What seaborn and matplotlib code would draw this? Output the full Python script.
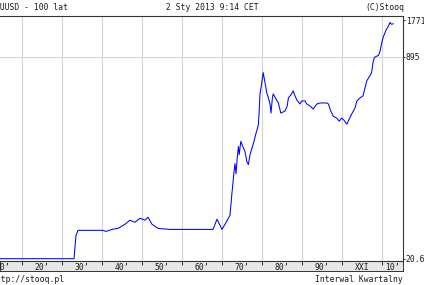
import matplotlib
matplotlib.use("Agg")
import matplotlib.pyplot as plt
import matplotlib.ticker as mticker
import seaborn as sns
import pandas as pd

# ---- data ----
years = [1914.5, 1933.0, 1933.5, 1934.0, 1940.25, 1941.0, 1942.5, 1944.0, 1945.75, 1947.0,
         1948.25, 1949.5, 1950.75, 1951.5, 1952.5, 1954.0, 1957.0, 1962.0, 1967.75, 1968.75,
         1970.0, 1970.75, 1972.0, 1972.4, 1973.0, 1973.25, 1973.5, 1973.8, 1974.1, 1974.3,
         1974.7, 1975.2, 1975.75, 1976.2, 1976.6, 1977.0, 1977.4, 1978.0, 1978.5, 1978.8,
         1979.1, 1979.3, 1979.5, 1979.75, 1980.0, 1980.3, 1980.75, 1981.2, 1981.6, 1982.0,
         1982.25, 1982.6, 1982.8, 1983.5, 1984.1, 1984.7, 1985.75, 1986.3, 1986.6, 1987.4,
         1987.8, 1988.25, 1988.7, 1989.5, 1989.9, 1990.75, 1991.2, 1992.0, 1992.8, 1993.7,
         1994.5, 1996.2, 1996.6, 1997.2, 1997.8, 1998.7, 1999.3, 1999.9, 2000.5, 2001.2,
         2001.8, 2002.4, 2003.25, 2003.7, 2004.5, 2005.25, 2005.75, 2006.2, 2007.0, 2007.4,
         2007.75, 2008.1, 2008.5, 2009.1, 2009.5, 2009.9, 2010.3, 2011.0, 2011.6, 2012.0,
         2012.4, 2012.8]
prices = [20.67, 20.67, 31.9, 35.1, 35.1, 34.4, 35.7, 36.4, 39.3, 42.4,
          40.8, 44.0, 42.4, 44.8, 39.3, 36.4, 35.7, 35.7, 35.7, 43.2,
          35.7, 39.3, 46.5, 65.4, 104.8, 121.9, 100.9, 133.9, 167.9, 144.4,
          184.6, 167.9, 152.8, 126.5, 119.6, 144.4, 158.7, 184.6, 214.6, 231.5,
          254.3, 325.1, 448.2, 501.7, 572.8, 666.0, 551.5, 456.6, 415.5, 371.0,
          313.0, 415.5, 448.2, 407.6, 378.1, 313.0, 325.1, 357.4, 415.5, 448.2,
          474.4, 431.6, 400.2, 371.0, 392.7, 392.7, 371.0, 357.4, 337.6, 371.0,
          378.1, 378.1, 371.0, 325.1, 295.8, 284.8, 269.2, 284.8, 274.3, 254.3,
          279.6, 307.2, 344.0, 392.7, 415.5, 431.6, 501.7, 572.8, 629.4, 666.0,
          804.3, 884.1, 900.6, 918.0, 989.7, 1151.0, 1289.0, 1472.0, 1587.0, 1700.0,
          1640.0, 1660.0]

decade_lines = [1920, 1930, 1940, 1950, 1960, 1970, 1980, 1990, 2000, 2010]
decade_label_pos = [1915, 1925, 1935, 1945, 1955, 1965, 1975, 1985, 1995, 2005, 2012.6]
decade_labels = ["10’", "20’", "30’", "40’", "50’", "60’", "70’", "80’", "90’", "XXI", "10’"]
y_ticks = [20.6, 895, 1771]
y_tick_labels = ["20.6", "895", "1771"]

df = pd.DataFrame({"year": years, "price": prices})

# ---- figure ----
W, H = 424, 285
fig = plt.figure(figsize=(W / 100, H / 100), dpi=100)
fig.patch.set_facecolor("white")
mono = "DejaVu Sans Mono"
fs = 5.8
txt_col = "#1a1a1a"

# plot area: x 0..403, y 16..261 (pixels)
ax = fig.add_axes([0 / W, (H - 261) / H, 403 / W, (261 - 16) / H])
ax.set_zorder(2)
ax.set_facecolor("white")

# label band under the plot
band = fig.add_axes([0 / W, (H - 271) / H, 403 / W, 10 / H])
band.set_zorder(1)
band.set_facecolor("#e6e6e6")
band.set_xticks([])
band.set_yticks([])
for s in band.spines.values():
    s.set_color("#333333")
    s.set_linewidth(0.7)

sns.lineplot(data=df, x="year", y="price", ax=ax, color="#0000ff", linewidth=0.75, zorder=3)

ax.set_yscale("log")
ax.set_xlim(1914.5, 2015.25)
ax.set_ylim(19.8, 1917)

# vertical grid at decades, horizontal at middle label
ax.set_xticks(decade_lines)
ax.set_xticklabels([""] * len(decade_lines))
ax.set_xticks(decade_label_pos, minor=True)
ax.set_xticklabels(decade_labels, minor=True, fontsize=fs, family=mono, color=txt_col)
ax.tick_params(axis="x", which="major", length=3, width=0.7, color="#333333", direction="out")
ax.tick_params(axis="x", which="minor", length=0, pad=1.2)
ax.grid(axis="x", which="major", color="#d4d4d4", linewidth=0.8)

ax.yaxis.tick_right()
ax.set_yticks(y_ticks)
ax.set_yticklabels(y_tick_labels, fontsize=fs, family=mono, color=txt_col)
ax.yaxis.set_minor_locator(mticker.NullLocator())
ax.tick_params(axis="y", which="major", length=1.5, width=0.7, color="#333333", pad=0.6)
ax.axhline(895, color="#d4d4d4", linewidth=0.8, zorder=1)

ax.set_xlabel("")
ax.set_ylabel("")
for name, s in ax.spines.items():
    s.set_color("#333333")
    s.set_linewidth(0.8)
ax.spines["left"].set_visible(False)

# header / footer texts
fig.text(-10 / W, (H - 8) / H, "XAUUSD - 100 lat", fontsize=fs, family=mono, color=txt_col,
         ha="left", va="center")
fig.text(212 / W, (H - 8) / H, "2 Sty 2013 9:14 CET", fontsize=fs, family=mono, color=txt_col,
         ha="center", va="center")
fig.text(404 / W, (H - 8) / H, "(C)Stooq", fontsize=fs, family=mono, color=txt_col,
         ha="right", va="center")
fig.text(-9 / W, (H - 279) / H, "http://stooq.pl", fontsize=fs, family=mono, color=txt_col,
         ha="left", va="center")
fig.text(403 / W, (H - 279) / H, "Interwal Kwartalny", fontsize=fs, family=mono, color=txt_col,
         ha="right", va="center")

fig.savefig("out.png", dpi=100)
